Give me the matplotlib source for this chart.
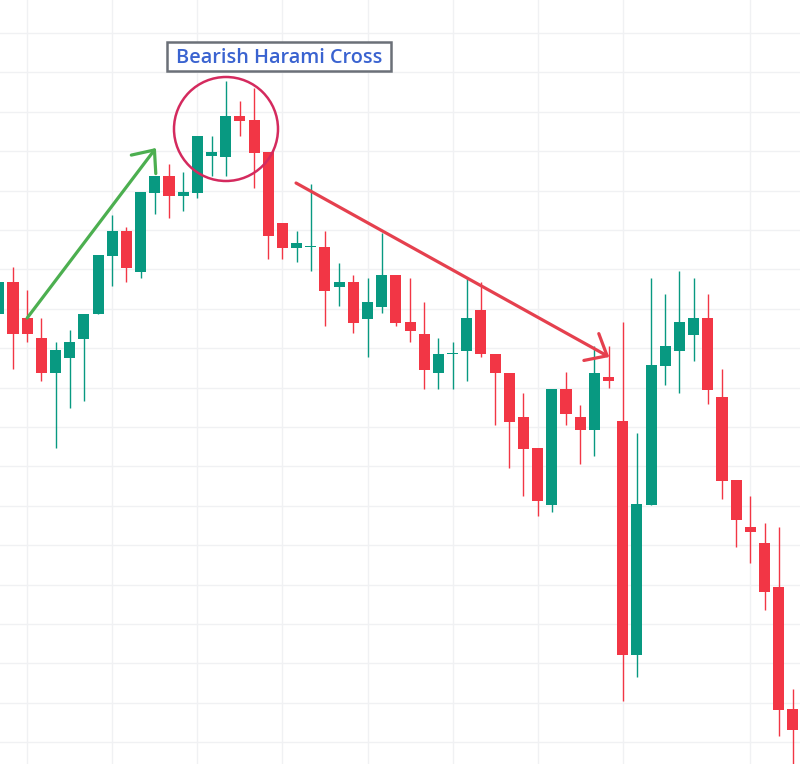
import numpy as np
import matplotlib.pyplot as plt
from matplotlib.patches import Ellipse, Rectangle

# candle data (price units), one entry per bar, left to right
opens = [450, 482, 446, 426, 391, 406, 425, 450, 508, 533, 492, 571, 588, 568, 571,
         608, 607, 648, 644, 612, 541, 516, 517, 517, 477, 482, 445, 457, 489, 442,
         430, 391, 410, 413, 454, 410, 391, 347, 316, 259, 375, 347, 334, 387, 343,
         109, 259, 398, 413, 429, 446, 367, 284, 237, 221, 177, 55]
highs = [488, 497, 474, 446, 422, 434, 450, 509, 549, 537, 572, 588, 600, 592, 628,
         628, 683, 663, 676, 612, 541, 533, 580, 533, 501, 489, 486, 531, 489, 486,
         462, 426, 422, 486, 482, 410, 391, 371, 316, 375, 392, 359, 418, 418, 442,
         331, 486, 470, 493, 486, 470, 395, 284, 268, 241, 237, 75]
lows = [444, 395, 422, 383, 316, 356, 363, 450, 478, 482, 486, 550, 546, 553, 566,
        588, 588, 628, 576, 505, 505, 502, 493, 438, 458, 431, 407, 451, 438, 422,
        375, 375, 375, 383, 407, 339, 296, 268, 248, 252, 339, 300, 308, 376, 63,
        87, 259, 379, 371, 403, 360, 265, 217, 201, 154, 28, -16]
closes = [482, 430, 430, 391, 414, 422, 450, 509, 533, 496, 572, 588, 568, 572, 628,
          612, 648, 643, 611, 528, 516, 521, 517, 473, 482, 441, 462, 489, 441, 433,
          394, 410, 410, 446, 410, 391, 342, 315, 263, 375, 350, 334, 391, 383, 109,
          260, 399, 418, 442, 446, 374, 283, 244, 232, 172, 54, 34]

title_text = 'Bearish Harami Cross'

UP = '#089981'
DOWN = '#f23645'

fig = plt.figure(figsize=(8, 7.64), dpi=100)
ax = fig.add_axes([0, 0, 1, 1])

idx = np.arange(len(opens))
o = np.array(opens)
c = np.array(closes)
colors = [UP if cc >= oo else DOWN for oo, cc in zip(o, c)]

ax.vlines(idx, lows, highs, colors=colors, lw=1.0, zorder=2)
body = np.maximum(np.abs(c - o), 1.5)
ax.bar(idx, body, bottom=np.minimum(o, c), width=0.78, color=colors, zorder=3)

# trend arrows
head = '->,head_length=1.0,head_width=0.85'
ax.annotate('', xy=(11.08, 616), xytext=(2, 446),
            arrowprops=dict(arrowstyle=head, lw=2.3, color='#4caf50',
                            shrinkA=0, shrinkB=0, mutation_scale=13),
            zorder=5)
ax.annotate('', xy=(43.05, 407), xytext=(20.96, 581),
            arrowprops=dict(arrowstyle=head, lw=2.3, color='#e5404e',
                            shrinkA=0, shrinkB=0, mutation_scale=13),
            zorder=5)

# highlight the pattern
ax.add_patch(Ellipse((16.02, 635), 104 / 14.18, 104, fill=False,
                     ec='#d42a5e', lw=1.8, zorder=5))

# label box
ax.add_patch(Rectangle((11.86, 693), 15.8, 29, fc='white', ec='#6b7078',
                       lw=1.8, zorder=6))
ax.text(19.76, 701, title_text, ha='center', va='baseline', color='#3a63d0',
        fontsize=14.3, fontweight='semibold', family=['Open Sans', 'DejaVu Sans'],
        zorder=7)

ax.set_xlim(0.083, 56.5)
ax.set_ylim(0, 764)
ax.set_xticks([2, 8, 14, 20, 26, 32, 38, 44, 53])
ax.set_yticks(np.arange(731, 0, -39.4))
ax.grid(True, color='#f0f1f3', lw=1.0, zorder=0)
ax.set_axisbelow(True)
ax.tick_params(length=0, labelleft=False, labelbottom=False)
for s in ax.spines.values():
    s.set_visible(False)

fig.savefig('out.png', dpi=100, facecolor='white')
